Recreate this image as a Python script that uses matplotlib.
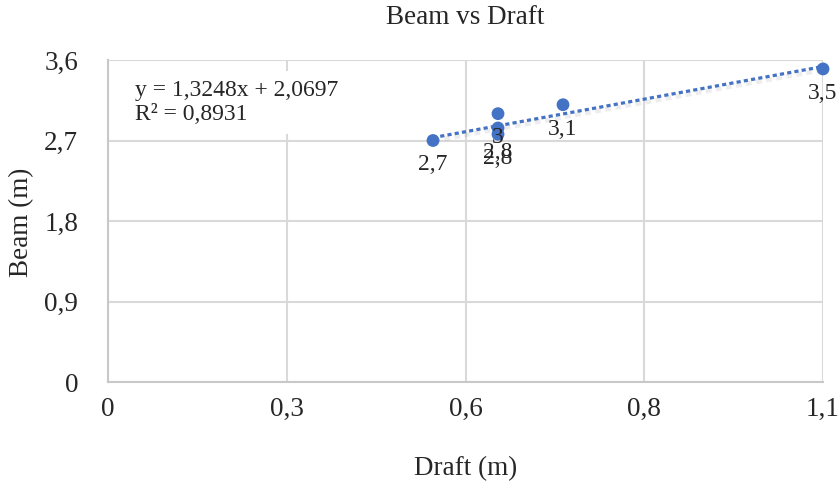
import matplotlib
matplotlib.use("Agg")
import matplotlib.pyplot as plt
from matplotlib.ticker import FixedLocator, FuncFormatter

# Data
draft = [0.5, 0.6, 0.6, 0.6, 0.7, 1.1]
beam = [2.7, 3.0, 2.84, 2.77, 3.1, 3.5]
slope, intercept, r2 = 1.3248, 2.0697, 0.8931

x_ticks = [0, 0.275, 0.55, 0.825, 1.1]
y_ticks = [0, 0.9, 1.8, 2.7, 3.6]

blue = "#4472C4"
grid_c = "#d9d9d9"
txt_c = "#262626"

plt.rcParams["font.family"] = ["Liberation Serif", "DejaVu Serif"]
big = 19.5
small = 17


def comma(v, decimals=1):
    s = f"{v:.{decimals}f}"
    if s.endswith(".0"):
        s = s[:-2]
    return s.replace(".", ",")


fig = plt.figure(figsize=(8.38, 4.84), dpi=100)
ax = fig.add_axes([108 / 838, 1 - 382 / 484, 715 / 838, 322 / 484])

ax.set_xlim(0, 1.1)
ax.set_ylim(0, 3.6)
ax.xaxis.set_major_locator(FixedLocator(x_ticks))
ax.yaxis.set_major_locator(FixedLocator(y_ticks))
ax.xaxis.set_major_formatter(FuncFormatter(lambda v, p: comma(v)))
ax.yaxis.set_major_formatter(FuncFormatter(lambda v, p: comma(v)))
ax.tick_params(length=0, colors=txt_c, labelsize=big)
ax.tick_params(axis="y", pad=21.5)
ax.tick_params(axis="x", pad=11)

ax.grid(True, color=grid_c, linewidth=1.5)
ax.set_axisbelow(True)
for s in ax.spines.values():
    s.set_visible(False)
for s in ("left", "bottom"):
    ax.spines[s].set_visible(True)
    ax.spines[s].set_color("#c8c8c8")
    ax.spines[s].set_linewidth(1.5)

# Linear trendline from the fitted equation
x0, x1 = min(draft), max(draft)
tx = [x0, x1]
ty = [slope * x0 + intercept, slope * x1 + intercept]
ax.plot([t + 0.002 for t in tx], [t - 0.035 for t in ty], color="#000000",
        alpha=0.07, linewidth=3.2, linestyle=(0, (1.3, 1.0)),
        dash_capstyle="butt", zorder=2)
ax.plot(tx, ty, color=blue, linewidth=2.3, linestyle=(0, (1.3, 1.0)),
        dash_capstyle="butt", zorder=3)

ax.scatter(draft, beam, s=85, color=blue, zorder=4, clip_on=False,
           edgecolors="none")

for xv, yv in zip(draft, beam):
    ax.annotate(comma(yv), (xv, yv), xytext=(0, -17.5), textcoords="offset points",
                ha="center", va="center", fontsize=small, color=txt_c, zorder=5)

fig.text(135 / 838, 1 - 102.5 / 484,
         f"y = {comma(slope, 4)}x + {comma(intercept, 4)}\nR² = {comma(r2, 4)}",
         ha="left", va="center", fontsize=small, color=txt_c,
         linespacing=1.23,
         bbox=dict(facecolor="white", edgecolor="none", pad=6), zorder=6)

fig.text(465.5 / 838, 1 - 18 / 484, "Beam vs Draft", ha="center", va="center",
         fontsize=big, color=txt_c)
fig.text(465.5 / 838, 1 - 469 / 484, "Draft (m)", ha="center", va="center",
         fontsize=big, color=txt_c)
fig.text(22 / 838, 1 - 222 / 484, "Beam (m)", ha="center", va="center",
         rotation=90, fontsize=big, color=txt_c)

fig.savefig("out.png", dpi=100, facecolor="white")
